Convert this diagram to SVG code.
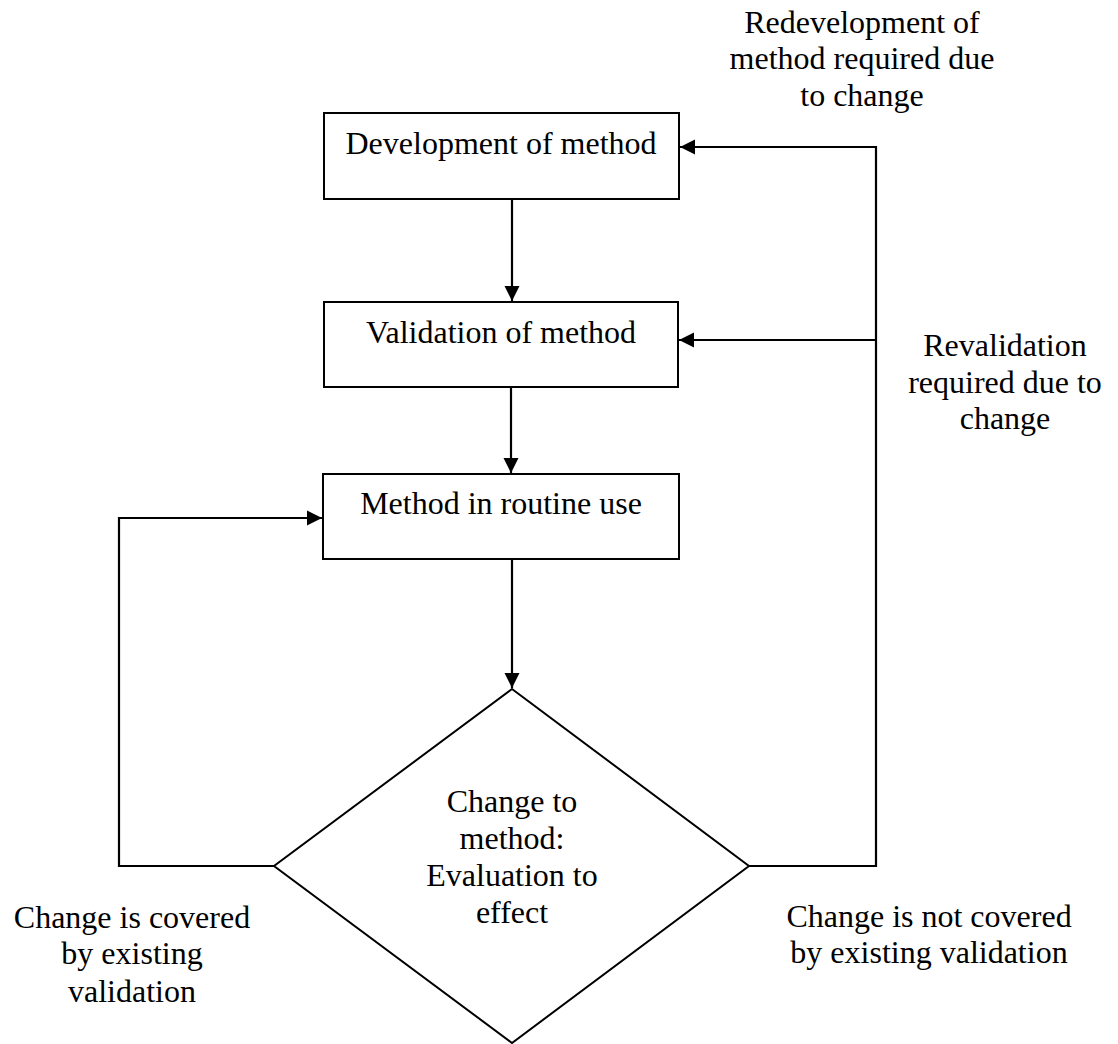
<svg xmlns="http://www.w3.org/2000/svg" width="1118" height="1044" viewBox="0 0 1118 1044">
<style>
.box{fill:#fff;stroke:#000;stroke-width:2}
.t{font-family:"Liberation Serif","Times New Roman",serif;font-size:32px;fill:#000;text-anchor:middle}
.c{fill:none;stroke:#000;stroke-width:2.2}
</style>
<defs>
<marker id="arr" markerUnits="userSpaceOnUse" markerWidth="16" markerHeight="16" viewBox="0 0 16 16" refX="15" refY="8" orient="auto">
<path d="M0,0.5 L15,8 L0,15.5 Z" fill="#000"/>
</marker>
</defs>
<rect width="1118" height="1044" fill="#fff"/>
<g id="connectors">
<line class="c" x1="512" y1="199" x2="512" y2="301" marker-end="url(#arr)"/>
<line class="c" x1="511" y1="387" x2="511" y2="473" marker-end="url(#arr)"/>
<line class="c" x1="512" y1="559" x2="512" y2="688" marker-end="url(#arr)"/>
<polyline class="c" points="274,866 119,866 119,518 322,518" marker-end="url(#arr)"/>
<polyline class="c" points="749,866 876,866 876,147 680,147" marker-end="url(#arr)"/>
<line class="c" x1="876" y1="340" x2="679" y2="340" marker-end="url(#arr)"/>
</g>
<g id="node-development">
<rect class="box" x="324" y="113" width="355" height="86"/>
<text class="t" x="501" y="154">Development of method</text>
</g>
<g id="node-validation">
<rect class="box" x="324" y="302" width="354" height="85"/>
<text class="t" x="501" y="343">Validation of method</text>
</g>
<g id="node-routine">
<rect class="box" x="323" y="474" width="356" height="85"/>
<text class="t" x="501" y="514">Method in routine use</text>
</g>
<g id="node-decision">
<polygon class="box" points="512,689 749,866 512,1043 274,866"/>
<text class="t" x="512" y="812">Change to</text>
<text class="t" x="512" y="849">method:</text>
<text class="t" x="512" y="886">Evaluation to</text>
<text class="t" x="512" y="923">effect</text>
</g>
<g id="labels">
<text class="t" x="862" y="33">Redevelopment of</text>
<text class="t" x="862" y="69">method required due</text>
<text class="t" x="862" y="106">to change</text>
<text class="t" x="1005" y="356">Revalidation</text>
<text class="t" x="1005" y="393">required due to</text>
<text class="t" x="1005" y="429">change</text>
<text class="t" x="132" y="928">Change is covered</text>
<text class="t" x="132" y="964">by existing</text>
<text class="t" x="132" y="1002">validation</text>
<text class="t" x="929" y="927">Change is not covered</text>
<text class="t" x="929" y="963">by existing validation</text>
</g>
</svg>
